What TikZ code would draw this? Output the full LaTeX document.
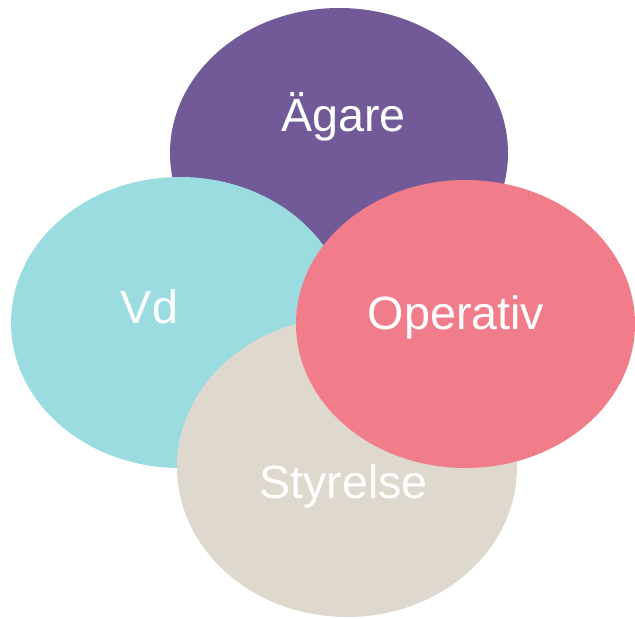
\documentclass[tikz,border=0pt]{standalone}
\usepackage{fontspec}
\setmainfont{Liberation Sans}
\definecolor{agarePurple}{RGB}{114,89,151}
\definecolor{vdCyan}{RGB}{154,220,224}
\definecolor{styrelseBeige}{RGB}{222,216,206}
\definecolor{operativPink}{RGB}{241,125,139}
\tikzset{
  blobtext/.style={text=white,font=\fontsize{35}{41}\selectfont,anchor=base,inner sep=0pt}
}
\begin{document}
\begin{tikzpicture}[x=0.75pt,y=0.75pt,yscale=-1,xscale=1]
	\useasboundingbox (0,0) rectangle (635,618);
	%Shape: Ellipse [Ägare]
	\fill [agarePurple] (339,153) ellipse [x radius=169, y radius=145];
	%Shape: Ellipse [Vd]
	\fill [vdCyan] (180,322.5) ellipse [x radius=169, y radius=145.5];
	%Shape: Ellipse [Styrelse]
	\fill [styrelseBeige] (347,467) ellipse [x radius=170, y radius=150];
	%Shape: Ellipse [Operativ]
	\fill [operativPink] (465.5,324) ellipse [x radius=169.5, y radius=144];
	
	% Text Node
	\node [blobtext] (agare) at (343.7,131.5) {Ägare};
	% Text Node
	\node [blobtext] (vd) at (149.5,323) {Vd};
	% Text Node
	\node [blobtext] (operativ) at (456,329.5) {Operativ};
	% Text Node
	\node [blobtext] (styrelse) at (343.5,498) {Styrelse};
\end{tikzpicture}
\end{document}
